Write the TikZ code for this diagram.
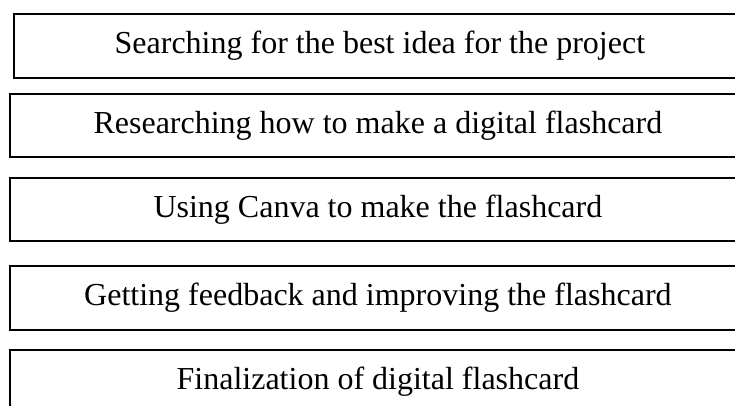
\documentclass[tikz,border=0pt]{standalone}
\usepackage{fontspec}
\setmainfont{Liberation Serif}
\begin{document}
\begin{tikzpicture}[x=1pt, y=-1pt,
    stage/.style={draw, shape=rectangle, line width=1.8pt, anchor=west,
      minimum width=736pt, minimum height=63.5pt, inner sep=0pt,
      font=\fontsize{32}{38}\selectfont}]
  \useasboundingbox (0,0) rectangle (735,405);
  \node[stage, minimum width=732pt] at (13,46) (search) {Searching for the best idea for the project};
  \node[stage] at (9,125.5) (research) {Researching how to make a digital flashcard};
  \node[stage] at (9,209.5) (canva) {Using Canva to make the flashcard};
  \node[stage] at (9,298) (feedback) {Getting feedback and improving the flashcard};
  \node[stage] at (9,382) (final) {Finalization of digital flashcard};
\end{tikzpicture}
\end{document}
